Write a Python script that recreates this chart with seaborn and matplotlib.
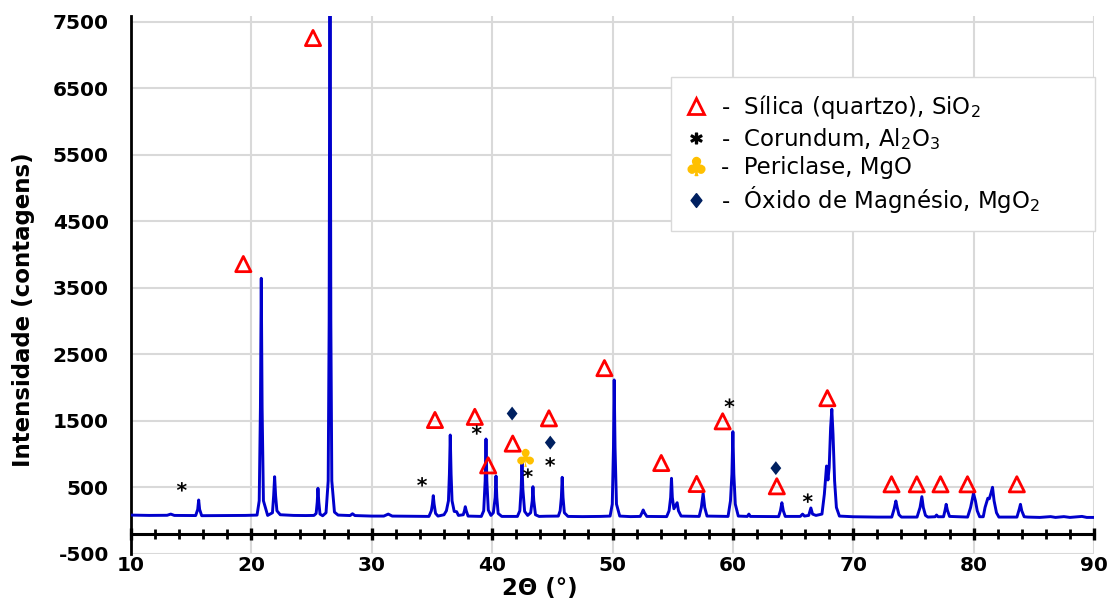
import matplotlib
matplotlib.use("Agg")
import matplotlib.pyplot as plt
from matplotlib.lines import Line2D
import seaborn as sns

# ---------------- data ----------------
two_theta = [
    10.0, 11.5, 13.0, 13.3, 13.6, 15.0,
    15.37, 15.54, 15.62, 15.70, 15.87, 17.5, 19.5,
    20.47, 20.65, 20.75, 20.82, 20.89, 21.0, 21.35, 21.75, 21.85, 21.93, 22.01, 22.12, 22.4,
    23.5, 24.5, 25.2, 25.38, 25.47, 25.53, 25.60, 25.7, 25.92,
    26.2, 26.38, 26.46, 26.53, 26.60, 26.68, 26.9, 27.2,
    28.2, 28.4, 28.6, 30.0, 31.0, 31.37, 31.7,
    34.75, 34.95, 35.04, 35.11, 35.18, 35.3, 35.5,
    36.0, 36.2, 36.37, 36.45, 36.52, 36.59, 36.67, 36.85, 37.05, 37.2,
    37.6, 37.7, 37.77, 37.85, 38.0,
    39.1, 39.3, 39.42, 39.49, 39.56, 39.68, 39.9, 40.1, 40.25, 40.32, 40.39, 40.5, 40.8,
    42.1, 42.3, 42.41, 42.48, 42.55, 42.7, 42.95, 43.2, 43.33, 43.39, 43.46, 43.6, 43.9,
    44.5, 45.5, 45.65, 45.75, 45.82, 45.89, 46.0, 46.3,
    47.5, 49.0, 49.8, 49.98, 50.08, 50.14, 50.21, 50.33, 50.6,
    51.5, 52.3, 52.45, 52.55, 52.65, 52.85,
    54.5, 54.7, 54.83, 54.9, 54.97, 55.1, 55.25, 55.37, 55.48, 55.7,
    57.2, 57.38, 57.53, 57.66, 57.85,
    59.6, 59.8, 59.92, 60.0, 60.08, 60.2, 60.45,
    61.2, 61.33, 61.45,
    63.8, 63.95, 64.07, 64.19, 64.35,
    65.6, 65.79, 65.95, 66.3, 66.48, 66.62, 66.9,
    67.4, 67.6, 67.78, 67.9, 68.0, 68.12, 68.22, 68.32, 68.45, 68.6, 68.85,
    70.0, 72.0, 73.2, 73.4, 73.54, 73.65, 73.8, 74.0,
    75.3, 75.55, 75.7, 75.82, 76.0, 76.2,
    76.8, 76.92, 77.05, 77.5, 77.63, 77.72, 77.82, 78.0,
    79.5, 79.75, 79.99, 80.15, 80.3, 80.5, 80.8,
    80.95, 81.18, 81.3, 81.45, 81.57, 81.7, 81.9, 82.1,
    83.6, 83.8, 83.89, 84.0, 84.2, 84.5,
    85.5, 86.4, 86.8, 87.5, 88.0, 89.0, 89.4, 90.0,
]
intensity = [
    85, 80, 82, 100, 80, 78,
    78, 170, 312, 170, 76, 78, 80,
    85, 300, 1700, 3646, 1700, 300, 80, 120, 380, 662, 380, 150, 90,
    80, 78, 80, 110, 280, 488, 280, 100, 75,
    120, 600, 3000, 9500, 3000, 600, 130, 85,
    78, 105, 78, 70, 70, 100, 70,
    65, 150, 250, 377, 250, 110, 70,
    90, 150, 300, 700, 1289, 700, 300, 140, 136, 80,
    90, 150, 211, 150, 70,
    65, 150, 600, 1229, 600, 160, 80, 120, 350, 673, 350, 110, 65,
    65, 150, 480, 873, 480, 140, 80, 120, 300, 512, 300, 90, 65,
    68, 70, 150, 350, 653, 350, 120, 65,
    62, 65, 70, 250, 1100, 2117, 1100, 250, 70,
    62, 65, 120, 162, 120, 65,
    62, 150, 350, 638, 350, 180, 230, 271, 150, 70,
    65, 200, 413, 200, 70,
    65, 300, 700, 1339, 700, 250, 70,
    65, 100, 65,
    62, 150, 271, 150, 65,
    65, 100, 70, 80, 192, 100, 80,
    100, 400, 823, 613, 800, 1400, 1676, 1300, 600, 200, 70,
    60, 55, 55, 180, 297, 200, 90, 55,
    55, 200, 362, 200, 80, 55,
    60, 86, 60, 60, 160, 247, 160, 65,
    55, 200, 413, 300, 150, 60, 60,
    200, 338, 330, 420, 503, 300, 120, 55,
    55, 180, 247, 150, 60, 55,
    50, 62, 50, 62, 50, 65, 50, 50,
]

# phase markers (2θ, intensity position of the symbol)
silica_x = [19.33, 25.12, 35.25, 38.56, 39.67, 41.71, 44.72, 49.33, 54.05, 56.99,
            59.15, 63.65, 67.85, 73.18, 75.28, 77.25, 79.49, 83.59]
silica_y = [3860, 7259, 1515, 1562, 833, 1160, 1540, 2295, 868, 553,
            1495, 518, 1843, 548, 548, 548, 548, 548]
corundum_x = [14.22, 34.18, 38.72, 42.97, 44.82, 59.72, 66.22]
corundum_y = [510, 585, 1365, 716, 885, 1768, 340]
periclase_x = [42.78]
periclase_y = [946]
mgo2_x = [41.66, 44.83, 63.57]
mgo2_y = [1612, 1175, 791]

legend_labels = [
    "-  Sílica (quartzo), SiO$_2$",
    "-  Corundum, Al$_2$O$_3$",
    "-  Periclase, MgO",
    "-  Óxido de Magnésio, MgO$_2$",
]
y_ticks = [-500, 500, 1500, 2500, 3500, 4500, 5500, 6500, 7500]
x_ticks = [10, 20, 30, 40, 50, 60, 70, 80, 90]

# ---------------- styling ----------------
sns.set_style("white")
plt.rcParams["font.family"] = ["DejaVu Sans"]
plt.rcParams["axes.unicode_minus"] = False
plt.rcParams["text.color"] = "black"
plt.rcParams["axes.labelcolor"] = "black"
plt.rcParams["xtick.color"] = "black"
plt.rcParams["ytick.color"] = "black"

RED = "#FF0000"
BLACK = "#000000"
GOLD = "#FFC000"
NAVY = "#002060"
BLUE = "#0000CC"

AST = r"$\mathbf{*}$"
CLUB = r"$\clubsuit$"
DIAM = [(0, 1), (0.78, 0), (0, -1), (-0.78, 0), (0, 1)]

fig = plt.figure(figsize=(11.17, 6.04), dpi=100)
ax = fig.add_axes([0.1173, 0.0828, 0.8621, 0.8907])

sns.lineplot(x=two_theta, y=intensity, ax=ax, color=BLUE, linewidth=2.1,
             estimator=None, sort=False, zorder=3)

sns.scatterplot(x=silica_x, y=silica_y, ax=ax, marker="^", s=120,
                facecolor="none", edgecolor=RED, linewidth=2.0, zorder=4)
sns.scatterplot(x=corundum_x, y=corundum_y, ax=ax, marker=AST, s=50, color=BLACK,
                edgecolor="none", linewidth=0, zorder=4)
sns.scatterplot(x=periclase_x, y=periclase_y, ax=ax, marker=CLUB, s=170, color=GOLD,
                edgecolor="none", linewidth=0, zorder=4)
sns.scatterplot(x=mgo2_x, y=mgo2_y, ax=ax, marker=DIAM, s=100, color=NAVY,
                edgecolor="none", linewidth=0, zorder=4)

ax.set_xlim(10, 90)
ax.set_ylim(-500, 7590)
ax.set_xticks(x_ticks)
ax.set_xticks(range(12, 90, 2), minor=True)
ax.set_yticks(y_ticks)

ax.grid(True, which="major", color="#D9D9D9", linewidth=1.5, zorder=0)
ax.set_axisbelow(True)

for s in ["top", "right"]:
    ax.spines[s].set_visible(False)
ax.spines["left"].set_color(BLACK)
ax.spines["left"].set_linewidth(2.0)
ax.spines["bottom"].set_color(BLACK)
ax.spines["bottom"].set_linewidth(2.2)
ax.spines["bottom"].set_position(("data", -200))

ax.tick_params(axis="x", which="both", bottom=True)
ax.tick_params(axis="x", which="major", direction="inout", length=9, width=2.4,
               color=BLACK, pad=11.5, labelsize=14.5)
ax.tick_params(axis="x", which="minor", direction="inout", length=6.5, width=2.0,
               color=BLACK)
ax.tick_params(axis="y", which="major", left=False, length=0, pad=16, labelsize=14.5)
for lab in ax.get_xticklabels() + ax.get_yticklabels():
    lab.set_fontweight("bold")

ax.set_xlabel("2Θ (°)", fontsize=16.5, fontweight="bold")
ax.xaxis.set_label_coords(0.4247, -0.043)
ax.set_ylabel("Intensidade (contagens)", fontsize=16.5, fontweight="bold")
ax.yaxis.set_label_coords(-0.1, 0.455)

handles = [
    Line2D([], [], ls="none", marker="^", markersize=11, mfc="none", mec=RED, mew=2.0),
    Line2D([], [], ls="none", marker=AST, markersize=8, color=BLACK),
    Line2D([], [], ls="none", marker=CLUB, markersize=13, color=GOLD),
    Line2D([], [], ls="none", marker=DIAM, markersize=10, color=NAVY),
]
leg = ax.legend(handles, legend_labels, loc="upper left", mode="expand",
                bbox_to_anchor=(0.5607, 0.8866, 0.4403, 0.0), fontsize=16.5,
                frameon=True, fancybox=False, framealpha=1, edgecolor="#D9D9D9",
                handlelength=0.8, handletextpad=0.7, labelspacing=0.2,
                borderpad=0.7, borderaxespad=0)
leg.get_frame().set_linewidth(1.0)

fig.savefig("out.png", dpi=100)
